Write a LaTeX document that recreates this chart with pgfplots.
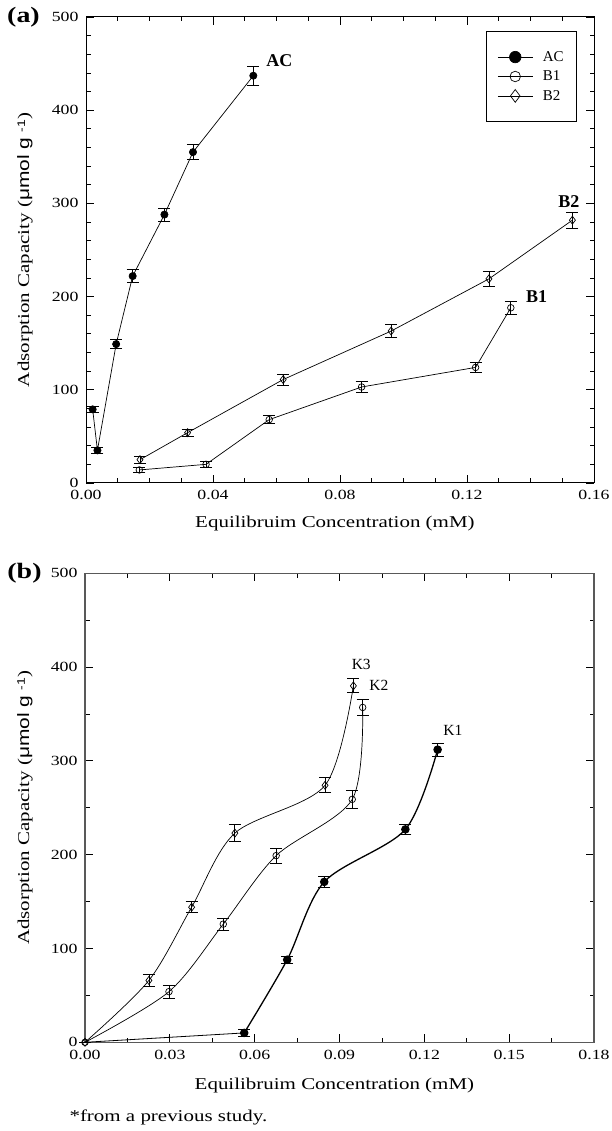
\documentclass[border=0pt]{standalone}
\usepackage{fontspec}
\setmainfont{Liberation Serif}
\newfontfamily\wideserif{Liberation Serif}[FakeStretch=1.27]
\newfontfamily\widesans{Liberation Sans}[FakeStretch=1.27]
\usepackage{pgfplots}
\pgfplotsset{compat=1.18}
\usepackage{pgfplotstable}

% panel (a): x = concentration (mM), y = capacity, e = error
\pgfplotstableread{
x y e
0.0021 79 3.5
0.0036 35 3.2
0.0095 149 5
0.0147 222 7
0.0247 288 7
0.0337 355 8
0.0527 437 10
}\ACdata
\pgfplotstableread{
x y e
0.0168 14 3
0.0378 20 3
0.0577 68 4
0.0868 103 6
0.1227 124 5
0.1338 188 7
}\Bone
\pgfplotstableread{
x y e
0.0170 25 4
0.0320 54 4
0.0621 111 6
0.0961 163 7
0.1269 219 8
0.1532 282 8.5
}\Btwo
% panel (b); K1 starts with a straight piece from the origin
\pgfplotstableread{
x y
0 0
0.0563 10
}\Koneseg
\pgfplotstableread{
x y e
0.0563 10 4
0.0715 88 3.5
0.0846 171 6
0.1133 227 5
0.1247 312 7
}\Kone
\pgfplotstableread{
x y e
0 0 0
0.0297 54 7
0.0489 126 6.5
0.0676 199 8
0.0945 259 10
0.0982 357 9
}\Ktwo
\pgfplotstableread{
x y e
0 0 0
0.0226 66 6
0.0377 144 6
0.0530 223 9
0.0849 274 8
0.0949 380 7.5
}\Kthree

\pgfplotsset{
  panel/.style={
    scale only axis,
    ymin=0, ymax=500,
    ytick={0,100,200,300,400,500},
    tick align=inside,
    major tick length=8pt, minor tick length=4.5pt,
    every tick/.style={black, line width=0.8pt},
    axis line style={line width=1pt},
    scaled x ticks=false,
    /pgf/number format/assume math mode=true,
    tick label style={font=\wideserif\fontsize{14}{14}\selectfont},
    x tick label style={/pgf/number format/fixed, /pgf/number format/fixed zerofill,
      /pgf/number format/precision=2, yshift=-4pt},
    y tick label style={xshift=-4pt},
    label style={font=\wideserif\fontsize{16.5}{18}\selectfont},
    ylabel={Adsorption Capacity ({\widesans μmol g} \raisebox{0.55ex}{\widesans\fontsize{11}{11}\selectfont -1})},
    xlabel={Equilibruim Concentration (mM)},
    clip=false,
  },
  ebars/.style={error bars/.cd, y dir=both, y explicit,
    error mark=|,
    error bar style={black, line width=0.8pt},
    error mark options={black, line width=0.8pt, mark size=6pt}},
}

\begin{document}
\begin{tikzpicture}
\useasboundingbox (0,0) rectangle (611pt,1131pt);

\begin{axis}[panel,
  at={(86pt,648pt)}, anchor=south west,
  width=508pt, height=466pt,
  xmin=0, xmax=0.16,
  xtick={0,0.04,0.08,0.12,0.16},
  minor x tick num=3, minor y tick num=4,
  ylabel style={at={(axis description cs:-0.12,0.5)}, anchor=center},
  xlabel style={at={(axis description cs:0.49,-0.088)}, anchor=center},
  legend style={at={(0.9665,0.970)}, anchor=north east, draw=black, line width=0.8pt,
    font=\fontsize{15}{15}\selectfont, inner xsep=11pt, inner ysep=18pt,
    row sep=4pt},
  legend cell align=left,
  legend image code/.code={\path[draw=none, fill=none] (0pt,-1pt) rectangle (43pt,1pt);
    \draw (0pt,0pt) -- (35pt,0pt);
    \draw[mark size={1.6*\pgfplotmarksize}] plot coordinates {(17.5pt,0pt)};},
]
\addplot[black, line width=0.7pt, mark=*, mark size=3.6pt, mark options={solid, fill=black}, ebars]
  table[x=x, y=y, y error=e] {\ACdata};
\addlegendentry{AC}
\addplot[black, line width=0.7pt, mark=o, mark size=3.3pt, ebars]
  table[x=x, y=y, y error=e] {\Bone};
\addlegendentry{B1}
\addplot[black, line width=0.7pt, mark=diamond, mark size=4pt, ebars]
  table[x=x, y=y, y error=e] {\Btwo};
\addlegendentry{B2}
\node[anchor=west, font=\bfseries\fontsize{18}{18}\selectfont] at (axis cs:0.0557,453) {AC};
\node[anchor=west, font=\bfseries\fontsize{18}{18}\selectfont] at (axis cs:0.1477,302) {B2};
\node[anchor=west, font=\bfseries\fontsize{18}{18}\selectfont] at (axis cs:0.1375,200) {B1};
\end{axis}

\begin{axis}[panel,
  at={(85pt,88.7pt)}, anchor=south west,
  width=509pt, height=469pt,
  xmin=0, xmax=0.18,
  xtick={0,0.03,0.06,0.09,0.12,0.15,0.18},
  minor x tick num=1, minor y tick num=1,
  y axis line style={black!65, line width=1.4pt},
  ylabel style={at={(axis description cs:-0.118,0.5)}, anchor=center},
  xlabel style={at={(axis description cs:0.49,-0.092)}, anchor=center},
]
\addplot[black, line width=0.8pt] table[x=x, y=y] {\Koneseg};
\addplot[black, line width=1.3pt, smooth, mark=*, mark size=3.6pt,
  mark options={solid, fill=black}, ebars]
  table[x=x, y=y, y error=e] {\Kone};
\addplot[black, line width=0.7pt, smooth, mark=o, mark size=3.3pt, ebars]
  table[x=x, y=y, y error=e] {\Ktwo};
\addplot[black, line width=0.7pt, smooth, mark=diamond, mark size=4pt, ebars]
  table[x=x, y=y, y error=e] {\Kthree};
\node[anchor=west, font=\fontsize{15.5}{15.5}\selectfont] at (axis cs:0.0931,403) {K3};
\node[anchor=west, font=\fontsize{15.5}{15.5}\selectfont] at (axis cs:0.0993,380) {K2};
\node[anchor=west, font=\fontsize{15.5}{15.5}\selectfont] at (axis cs:0.1255,333) {K1};
\end{axis}

\node[font=\wideserif\bfseries\fontsize{22}{22}\selectfont] at (23.5pt,1114pt) {(a)};
\node[font=\wideserif\bfseries\fontsize{22}{22}\selectfont] at (24.5pt,558pt) {(b)};
\node[anchor=west, font=\wideserif\fontsize{16.5}{18}\selectfont] at (66pt,14pt) {*from a previous study.};
\end{tikzpicture}
\end{document}
